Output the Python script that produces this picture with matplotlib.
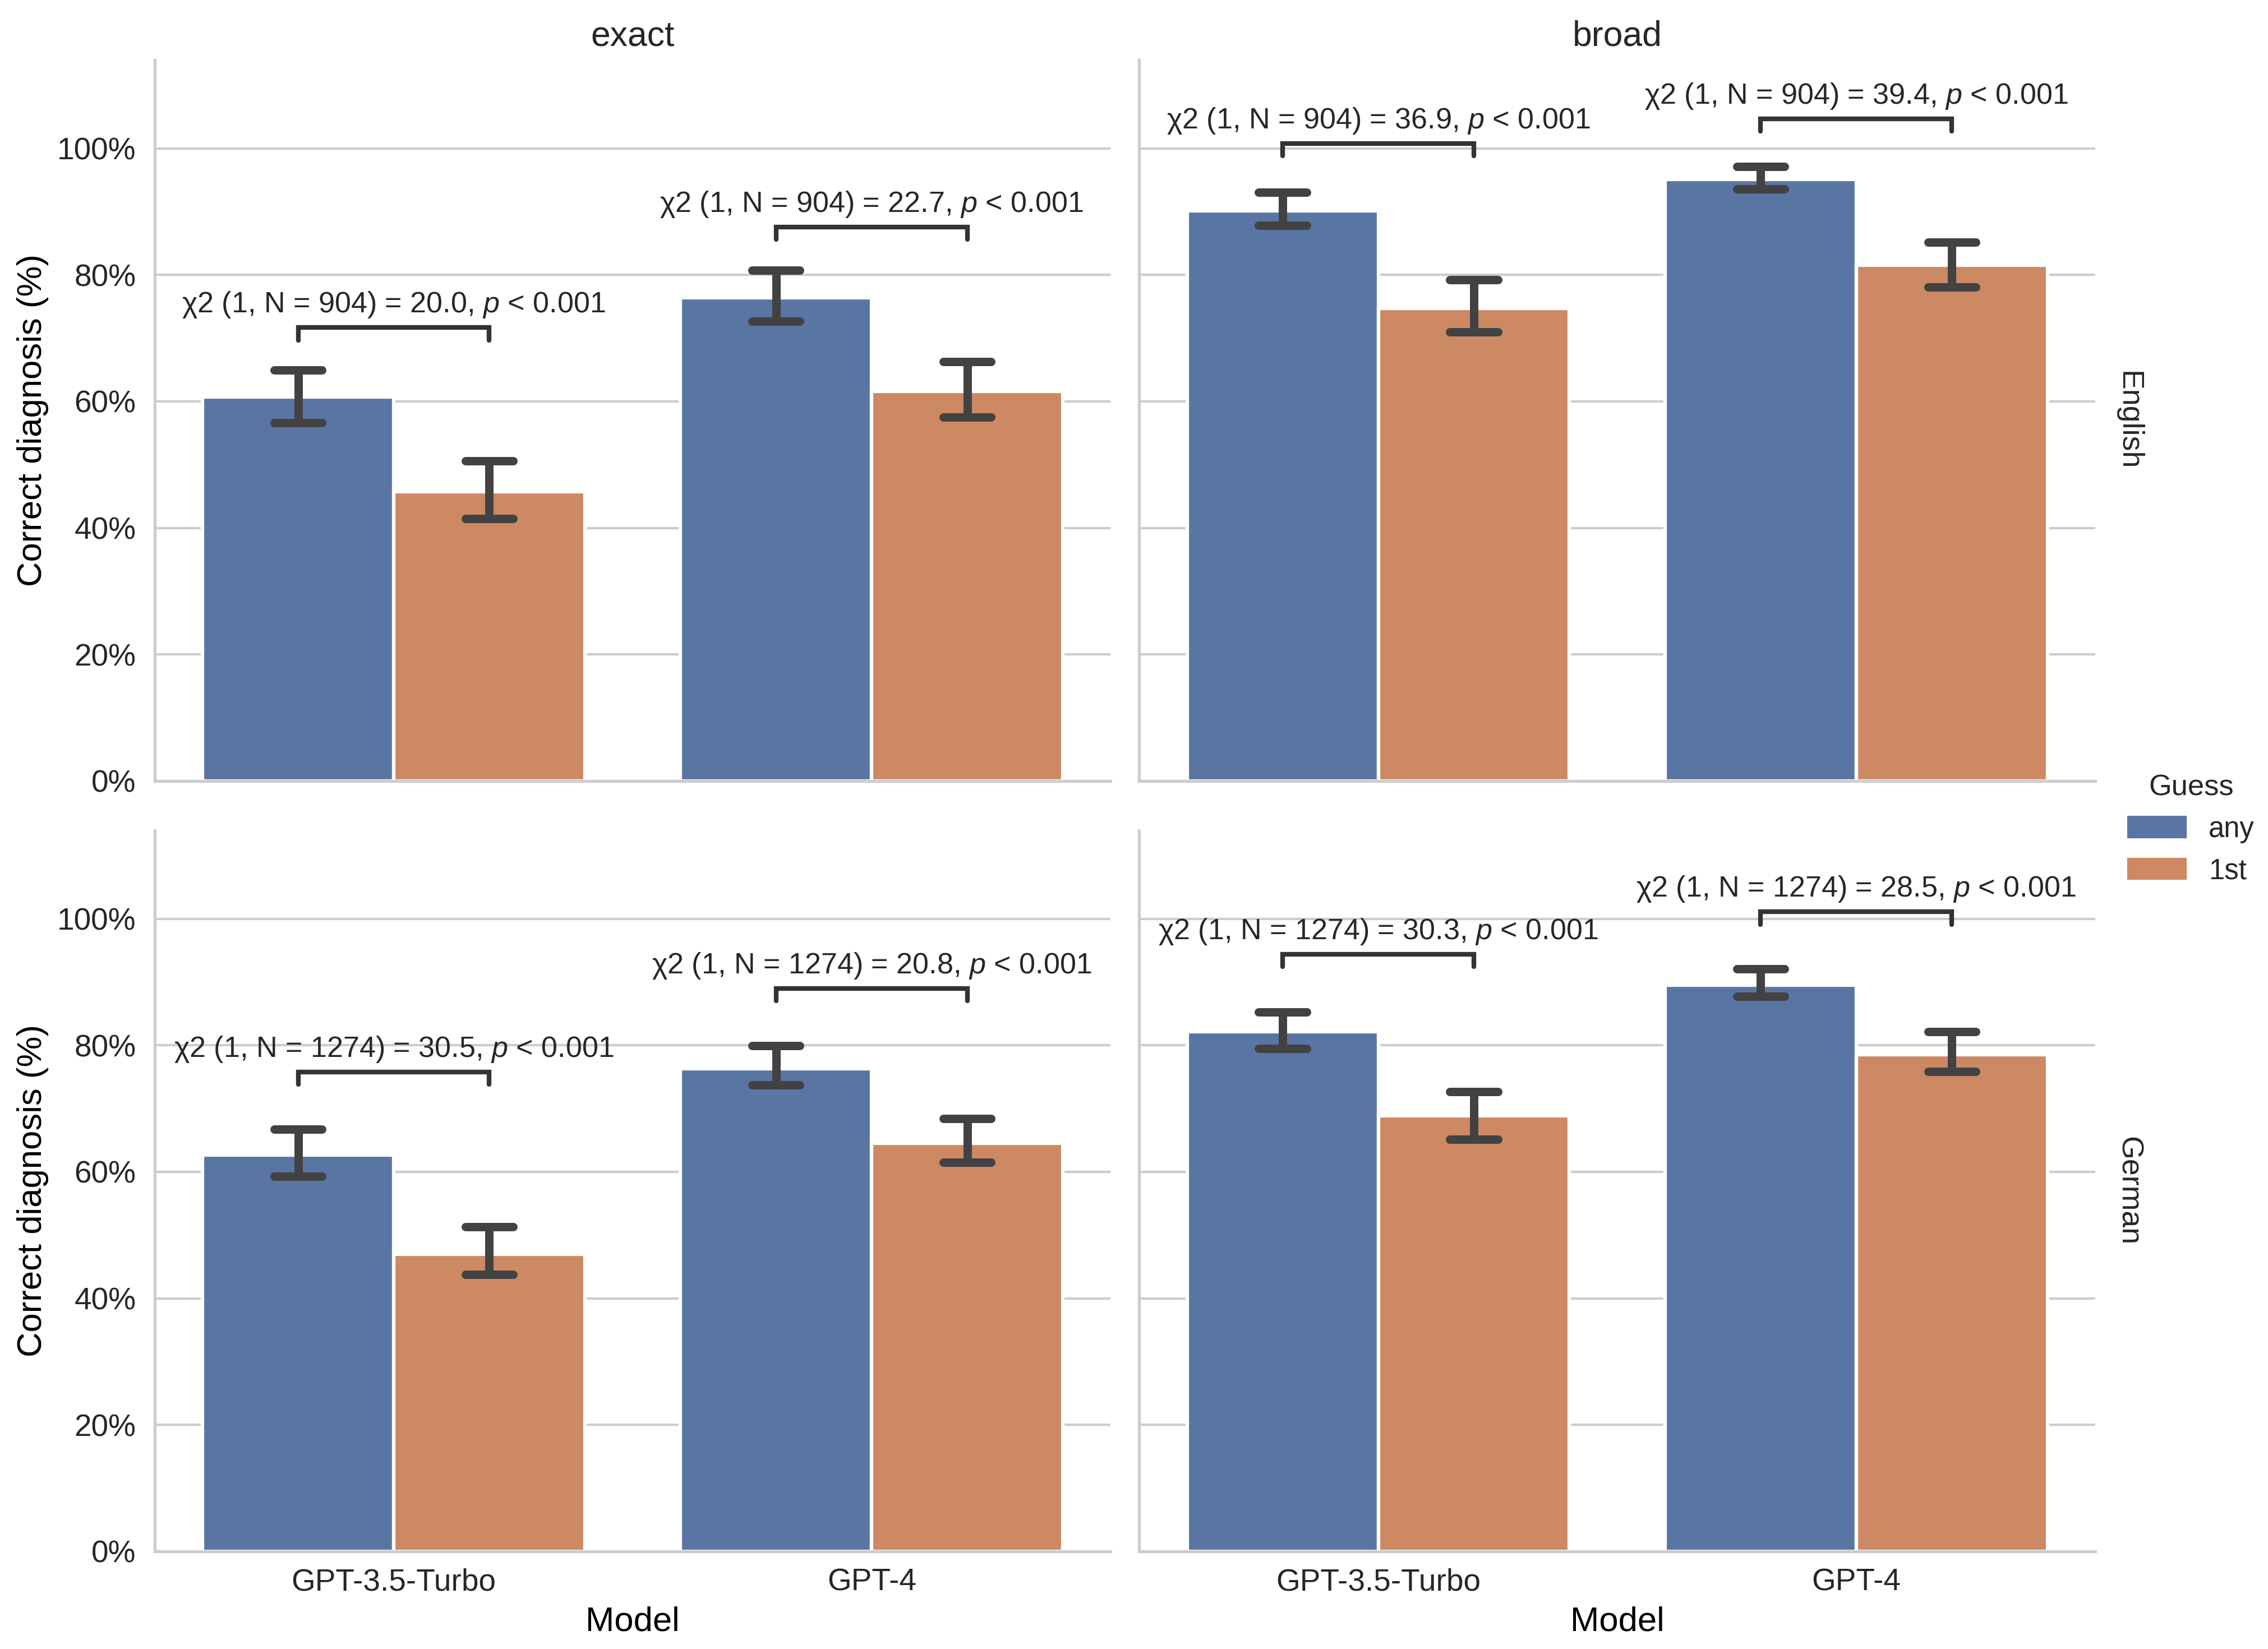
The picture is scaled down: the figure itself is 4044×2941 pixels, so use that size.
import matplotlib.pyplot as plt
from matplotlib.patches import Patch
from matplotlib.ticker import PercentFormatter
import numpy as np

# categories
models = ['GPT-3.5-Turbo', 'GPT-4']
guesses = ['any', '1st']
match_types = ['exact', 'broad']
languages = ['English', 'German']

# share of correct diagnoses (mean and 95% CI), per model
en_exact_any = [0.607, 0.764]
en_exact_any_lo = [0.566, 0.727]
en_exact_any_hi = [0.650, 0.807]
en_exact_1st = [0.457, 0.616]
en_exact_1st_lo = [0.415, 0.575]
en_exact_1st_hi = [0.506, 0.663]

en_broad_any = [0.901, 0.951]
en_broad_any_lo = [0.878, 0.936]
en_broad_any_hi = [0.931, 0.971]
en_broad_1st = [0.747, 0.815]
en_broad_1st_lo = [0.710, 0.781]
en_broad_1st_hi = [0.792, 0.852]

de_exact_any = [0.627, 0.763]
de_exact_any_lo = [0.593, 0.737]
de_exact_any_hi = [0.667, 0.799]
de_exact_1st = [0.470, 0.645]
de_exact_1st_lo = [0.438, 0.615]
de_exact_1st_hi = [0.513, 0.684]

de_broad_any = [0.822, 0.895]
de_broad_any_lo = [0.795, 0.877]
de_broad_any_hi = [0.853, 0.921]
de_broad_1st = [0.689, 0.785]
de_broad_1st_lo = [0.651, 0.759]
de_broad_1st_hi = [0.727, 0.822]

# chi-square tests (any vs 1st), per model
chi_n = {'English': 904, 'German': 1274}
en_exact_chi = [20.0, 22.7]
en_broad_chi = [36.9, 39.4]
de_exact_chi = [30.5, 20.8]
de_broad_chi = [30.3, 28.5]

# heights of the significance brackets
en_exact_bracket = [0.717, 0.876]
en_broad_bracket = [1.008, 1.047]
de_exact_bracket = [0.758, 0.890]
de_broad_bracket = [0.944, 1.011]

panels = {
    ('English', 'exact'): ([en_exact_any, en_exact_1st], [en_exact_any_lo, en_exact_1st_lo],
                           [en_exact_any_hi, en_exact_1st_hi], en_exact_chi, en_exact_bracket),
    ('English', 'broad'): ([en_broad_any, en_broad_1st], [en_broad_any_lo, en_broad_1st_lo],
                           [en_broad_any_hi, en_broad_1st_hi], en_broad_chi, en_broad_bracket),
    ('German', 'exact'): ([de_exact_any, de_exact_1st], [de_exact_any_lo, de_exact_1st_lo],
                          [de_exact_any_hi, de_exact_1st_hi], de_exact_chi, de_exact_bracket),
    ('German', 'broad'): ([de_broad_any, de_broad_1st], [de_broad_any_lo, de_broad_1st_lo],
                          [de_broad_any_hi, de_broad_1st_hi], de_broad_chi, de_broad_bracket),
}

colors = ['#5975a4', '#cc8963']
text_color = '#262626'
err_color = '#424242'

plt.rcParams['font.family'] = ['Liberation Sans', 'DejaVu Sans']
plt.rcParams['mathtext.fontset'] = 'custom'
plt.rcParams['mathtext.rm'] = 'Liberation Sans'
plt.rcParams['mathtext.it'] = 'Liberation Sans:italic'
plt.rcParams['text.color'] = text_color

fig = plt.figure(figsize=(4045 / 300, 2941 / 300), dpi=300)

col_x = [0.0682, 0.5022]
row_y = [0.5264, 0.0592]
ax_w, ax_h = 0.4214, 0.4373

width = 0.4
x = np.arange(len(models))

for r, lang in enumerate(languages):
    for c, match in enumerate(match_types):
        ax = fig.add_axes([col_x[c], row_y[r], ax_w, ax_h])
        means, los, his, chis, brackets = panels[(lang, match)]

        for g, guess in enumerate(guesses):
            pos = x + (g - 0.5) * width
            ax.bar(pos, means[g], width=width, color=colors[g],
                   edgecolor='white', linewidth=1.5, zorder=2)
            for p, lo, hi in zip(pos, los[g], his[g]):
                ax.plot([p, p], [lo, hi], color=err_color, lw=3.6,
                        solid_capstyle='round', zorder=3)
                for yy in (lo, hi):
                    ax.plot([p - 0.05, p + 0.05], [yy, yy], color=err_color,
                            lw=3.6, solid_capstyle='round', zorder=3)

        # significance brackets
        for i in range(len(models)):
            x1, x2 = x[i] - width / 2, x[i] + width / 2
            yb = brackets[i]
            ax.plot([x1, x1, x2, x2], [yb - 0.02, yb, yb, yb - 0.02],
                    color='#333333', lw=2, solid_capstyle='round',
                    solid_joinstyle='miter', zorder=4)
            label = f'χ2 (1, N = {chi_n[lang]}) = {chis[i]:.1f}, $p$ < 0.001'
            ax.text((x1 + x2) / 2, yb + 0.024, label, ha='center', va='baseline',
                    fontsize=12.5, color=text_color)

        ax.set_xlim(-0.5, len(models) - 0.5)
        ax.set_ylim(0, 1.14)
        ax.set_yticks([0, 0.2, 0.4, 0.6, 0.8, 1.0])
        ax.yaxis.set_major_formatter(PercentFormatter(1.0, decimals=0))
        ax.set_xticks(x)
        ax.set_xticklabels(models)

        ax.grid(axis='y', color='#cccccc', lw=1)
        ax.set_axisbelow(True)
        for s in ['top', 'right']:
            ax.spines[s].set_visible(False)
        for s in ['left', 'bottom']:
            ax.spines[s].set_color('#cccccc')
            ax.spines[s].set_linewidth(1.25)

        ax.tick_params(axis='both', length=0, labelsize=13.2, colors=text_color)
        ax.tick_params(axis='y', pad=8)
        ax.tick_params(axis='x', pad=7)

        if c == 0:
            ax.set_ylabel('Correct diagnosis (%)', fontsize=14.8, labelpad=3.5)
        else:
            ax.tick_params(axis='y', labelleft=False)
        if r == 0:
            ax.set_title(match, fontsize=15, pad=6)
            ax.tick_params(axis='x', labelbottom=False)
        else:
            ax.set_xlabel('Model', fontsize=14.8, labelpad=4)
        if c == 1:
            ax.annotate(lang, xy=(1.02, 0.5), xycoords='axes fraction',
                        rotation=270, ha='left', va='center', fontsize=12.9)

handles = [Patch(color=col) for col in colors]
fig.legend(handles, guesses, title='Guess', loc='center left',
           bbox_to_anchor=(0.927, 0.497), frameon=False,
           fontsize=12.2, title_fontsize=12.6)

fig.savefig('out.png', dpi=300)
